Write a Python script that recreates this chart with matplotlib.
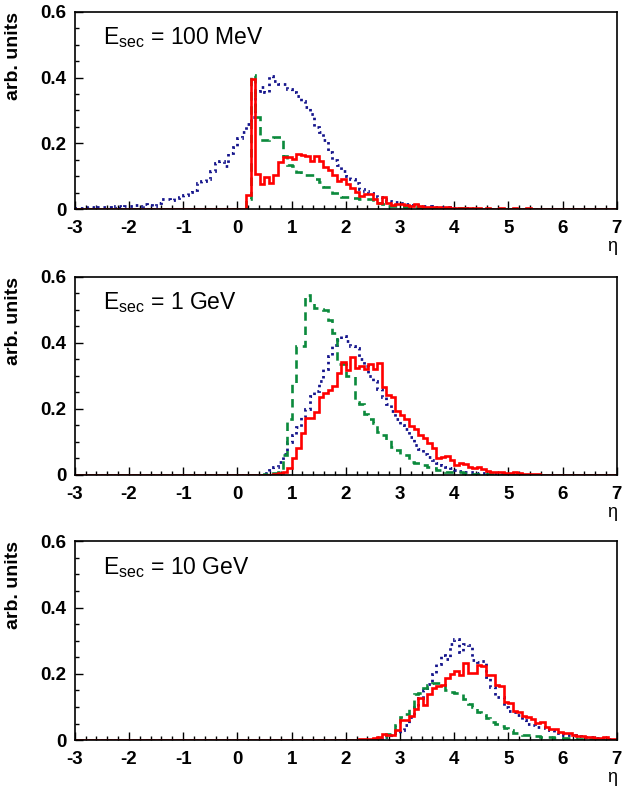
import numpy as np
import matplotlib
matplotlib.use("Agg")
import matplotlib.pyplot as plt
from matplotlib.ticker import MultipleLocator, FuncFormatter

plt.rcParams['font.family'] = ['Liberation Sans', 'DejaVu Sans']
plt.rcParams['axes.unicode_minus'] = False

# histogram binning: 120 bins of 1/12 between -3 and 7
eta_min, eta_max, nbins = -3.0, 7.0, 120

panel_labels = ["100 MeV", "1 GeV", "10 GeV"]

# each series: first bin lower edge in eta, then bin contents (arb. units)
red_100MeV_start = 1/6
red_100MeV = [0.043, 0.396, 0.106, 0.076, 0.098, 0.078, 0.103, 0.144, 0.159, 0.157,
              0.151, 0.169, 0.166, 0.161, 0.147, 0.161, 0.147, 0.127, 0.120, 0.105,
              0.086, 0.093, 0.076, 0.063, 0.053, 0.040, 0.046, 0.046, 0.030, 0.020,
              0.036, 0.018, 0.012, 0.014, 0.014, 0.012, 0.009, 0.016, 0.009, 0.007,
              0.006, 0.006, 0.005, 0.004, 0.005, 0.004, 0.003, 0.003, 0.002, 0.002,
              0.002, 0.002, 0.001, 0.002, 0.001, 0.001, 0.002, 0.001, 0.001, 0.002,
              0.001, 0.001, 0.002, 0.001, 0.001, 0.001, 0.001, 0.001, 0.001, 0.001]
green_100MeV_start = 1/6
green_100MeV = [0.030, 0.408, 0.280, 0.210, 0.210, 0.215, 0.220, 0.220, 0.160, 0.135,
                0.130, 0.112, 0.108, 0.105, 0.105, 0.092, 0.083, 0.066, 0.066, 0.050,
                0.048, 0.038, 0.036, 0.035, 0.033, 0.032, 0.030, 0.030, 0.018, 0.018,
                0.015, 0.010, 0.010, 0.009, 0.008, 0.007, 0.006, 0.005, 0.004, 0.004,
                0.003, 0.003, 0.003, 0.002, 0.002, 0.002, 0.002, 0.003, 0.003, 0.002,
                0.001, 0.001]
blue_100MeV_start = -3.0
blue_100MeV = [0.002, 0.003, 0.002, 0.005, 0.004, 0.006,
               0.007, 0.005, 0.004, 0.008, 0.006, 0.009,
               0.008, 0.012, 0.010, 0.014, 0.012, 0.009,
               0.020, 0.030, 0.031, 0.027, 0.035, 0.036,
               0.042, 0.053, 0.058, 0.078, 0.085, 0.093,
               0.115, 0.140, 0.145, 0.130, 0.170, 0.190,
               0.215, 0.235, 0.260, 0.280, 0.360, 0.370,
               0.355, 0.405, 0.390, 0.380, 0.380, 0.365,
               0.356, 0.345, 0.330, 0.310, 0.290, 0.250,
               0.235, 0.210, 0.175, 0.150, 0.135, 0.115,
               0.100, 0.090, 0.080, 0.060, 0.055, 0.048,
               0.045, 0.038, 0.030, 0.025, 0.022, 0.022,
               0.018, 0.015, 0.012, 0.012, 0.010, 0.010,
               0.008, 0.007, 0.006, 0.005, 0.005, 0.004,
               0.003, 0.003, 0.002, 0.002, 0.001, 0.001]

red_1GeV_start = 2/3
red_1GeV = [0.002, 0.005, 0.010, 0.020, 0.050, 0.081, 0.128, 0.172, 0.172, 0.192,
            0.236, 0.248, 0.258, 0.270, 0.308, 0.343, 0.318, 0.356, 0.325, 0.330,
            0.322, 0.335, 0.320, 0.338, 0.268, 0.242, 0.237, 0.195, 0.182, 0.170,
            0.148, 0.138, 0.120, 0.111, 0.096, 0.082, 0.050, 0.055, 0.058, 0.045,
            0.030, 0.035, 0.033, 0.025, 0.020, 0.025, 0.018, 0.012, 0.010, 0.010,
            0.008, 0.007, 0.006, 0.008, 0.006, 0.003, 0.002, 0.002, 0.002, 0.001,
            0.001, 0.001, 0.001, 0.001]
green_1GeV_start = 0.5
green_1GeV = [0.002, 0.003, 0.005, 0.010, 0.060, 0.170, 0.280, 0.390, 0.390, 0.545,
              0.525, 0.505, 0.502, 0.500, 0.470, 0.430, 0.335, 0.335, 0.300, 0.300,
              0.220, 0.215, 0.185, 0.170, 0.157, 0.130, 0.120, 0.105, 0.085, 0.075,
              0.065, 0.060, 0.040, 0.035, 0.035, 0.030, 0.025, 0.020, 0.015, 0.012,
              0.010, 0.010, 0.010, 0.008, 0.006, 0.005, 0.004, 0.003, 0.003, 0.002,
              0.002]
blue_1GeV_start = 0.5
blue_1GeV = [0.005, 0.015, 0.025, 0.040, 0.065, 0.100, 0.120, 0.145, 0.175, 0.200,
             0.240, 0.255, 0.285, 0.320, 0.360, 0.395, 0.410, 0.420, 0.405, 0.390,
             0.385, 0.350, 0.330, 0.300, 0.285, 0.260, 0.235, 0.215, 0.195, 0.170,
             0.150, 0.138, 0.115, 0.090, 0.080, 0.065, 0.055, 0.045, 0.035, 0.030,
             0.025, 0.020, 0.015, 0.012, 0.010, 0.010, 0.008, 0.006, 0.005, 0.004,
             0.003, 0.003, 0.002, 0.002, 0.001]

red_10GeV_start = 2.25
red_10GeV = [0.002, 0.003, 0.004, 0.006, 0.010, 0.018, 0.016, 0.014, 0.031, 0.060,
             0.062, 0.073, 0.093, 0.126, 0.106, 0.139, 0.157, 0.162, 0.167, 0.187,
             0.200, 0.207, 0.197, 0.232, 0.202, 0.202, 0.227, 0.225, 0.197, 0.197,
             0.167, 0.164, 0.116, 0.113, 0.089, 0.086, 0.073, 0.070, 0.065, 0.052,
             0.055, 0.040, 0.032, 0.034, 0.025, 0.020, 0.022, 0.015, 0.013, 0.012,
             0.010, 0.008, 0.006, 0.005, 0.010, 0.004, 0.002]
green_10GeV_start = 2.5
green_10GeV = [0.003, 0.006, 0.010, 0.017, 0.025, 0.045, 0.070, 0.080, 0.095, 0.140,
               0.142, 0.157, 0.165, 0.172, 0.172, 0.172, 0.152, 0.145, 0.142, 0.140,
               0.123, 0.110, 0.100, 0.085, 0.075, 0.066, 0.054, 0.050, 0.042, 0.035,
               0.030, 0.022, 0.020, 0.015, 0.014, 0.012, 0.011, 0.010, 0.009, 0.008,
               0.007, 0.007, 0.007, 0.006, 0.005, 0.004, 0.003, 0.003, 0.002, 0.002,
               0.002]
blue_10GeV_start = 2.5
blue_10GeV = [0.003, 0.005, 0.008, 0.010, 0.015, 0.020, 0.030, 0.045, 0.070, 0.100,
              0.126, 0.150, 0.170, 0.200, 0.230, 0.258, 0.245, 0.290, 0.305, 0.265,
              0.290, 0.287, 0.243, 0.235, 0.240, 0.190, 0.160, 0.130, 0.130, 0.100,
              0.088, 0.085, 0.076, 0.060, 0.050, 0.045, 0.040, 0.040, 0.035, 0.030,
              0.025, 0.020, 0.015, 0.015, 0.014, 0.012, 0.010, 0.010, 0.008, 0.006,
              0.005, 0.004, 0.003]

panels = [
    [(red_100MeV_start, red_100MeV), (green_100MeV_start, green_100MeV), (blue_100MeV_start, blue_100MeV)],
    [(red_1GeV_start, red_1GeV), (green_1GeV_start, green_1GeV), (blue_1GeV_start, blue_1GeV)],
    [(red_10GeV_start, red_10GeV), (green_10GeV_start, green_10GeV), (blue_10GeV_start, blue_10GeV)],
]

edges = np.linspace(eta_min, eta_max, nbins + 1)
bin_width = (eta_max - eta_min) / nbins


def fill(start, vals):
    h = np.zeros(nbins)
    i0 = int(round((start - eta_min) / bin_width))
    h[i0:i0 + len(vals)] = vals
    return h


styles = [
    dict(color='#ff0000', lw=1.9, ls='-', zorder=4),
    dict(color='#0b8a3c', lw=1.9, ls=(0, (3.2, 2.2)), zorder=3),
    dict(color='#15158c', lw=2.0, ls=(0, (0.9, 1.4)), zorder=2),
]

fig = plt.figure(figsize=(6.23, 7.89), dpi=100)
boxes = [[0.120, 0.735, 0.870, 0.250],
         [0.120, 0.398, 0.870, 0.251],
         [0.120, 0.062, 0.870, 0.252]]

yfmt = FuncFormatter(lambda v, p: '0' if abs(v) < 1e-9 else '%.1f' % v)

for box, label, series in zip(boxes, panel_labels, panels):
    ax = fig.add_axes(box)
    for (start, vals), st in zip(series[::-1], styles[::-1]):
        ax.stairs(fill(start, vals), edges, color=st['color'], lw=st['lw'],
                  ls=st['ls'], zorder=st['zorder'])

    ax.set_xlim(eta_min, eta_max)
    ax.set_ylim(0, 0.6)
    ax.xaxis.set_major_locator(MultipleLocator(1))
    ax.xaxis.set_minor_locator(MultipleLocator(0.2))
    ax.yaxis.set_major_locator(MultipleLocator(0.2))
    ax.yaxis.set_minor_locator(MultipleLocator(0.05))
    ax.yaxis.set_major_formatter(yfmt)
    ax.tick_params(which='both', direction='in', top=False, right=False,
                   width=1.0, labelsize=13.5)
    ax.tick_params(which='major', length=6)
    ax.tick_params(which='minor', length=3)
    ax.tick_params(axis='x', pad=8)
    ax.tick_params(axis='y', pad=6)
    for lab in ax.get_xticklabels() + ax.get_yticklabels():
        lab.set_fontweight('bold')
    for sp in ax.spines.values():
        sp.set_linewidth(1.2)
        sp.set_zorder(5)

    ax.set_ylabel('arb. units', fontsize=14, fontweight='bold', loc='top')
    ax.yaxis.set_label_coords(-0.098, 1.0)
    ax.text(0.991, -0.19, 'η', transform=ax.transAxes, fontsize=13,
            ha='center', va='center')
    ax.text(0.052, 0.87, r'E$_{\mathregular{sec}}$ = ' + label,
            transform=ax.transAxes, fontsize=16.5, ha='left', va='center')

fig.savefig('out.png', dpi=100)
